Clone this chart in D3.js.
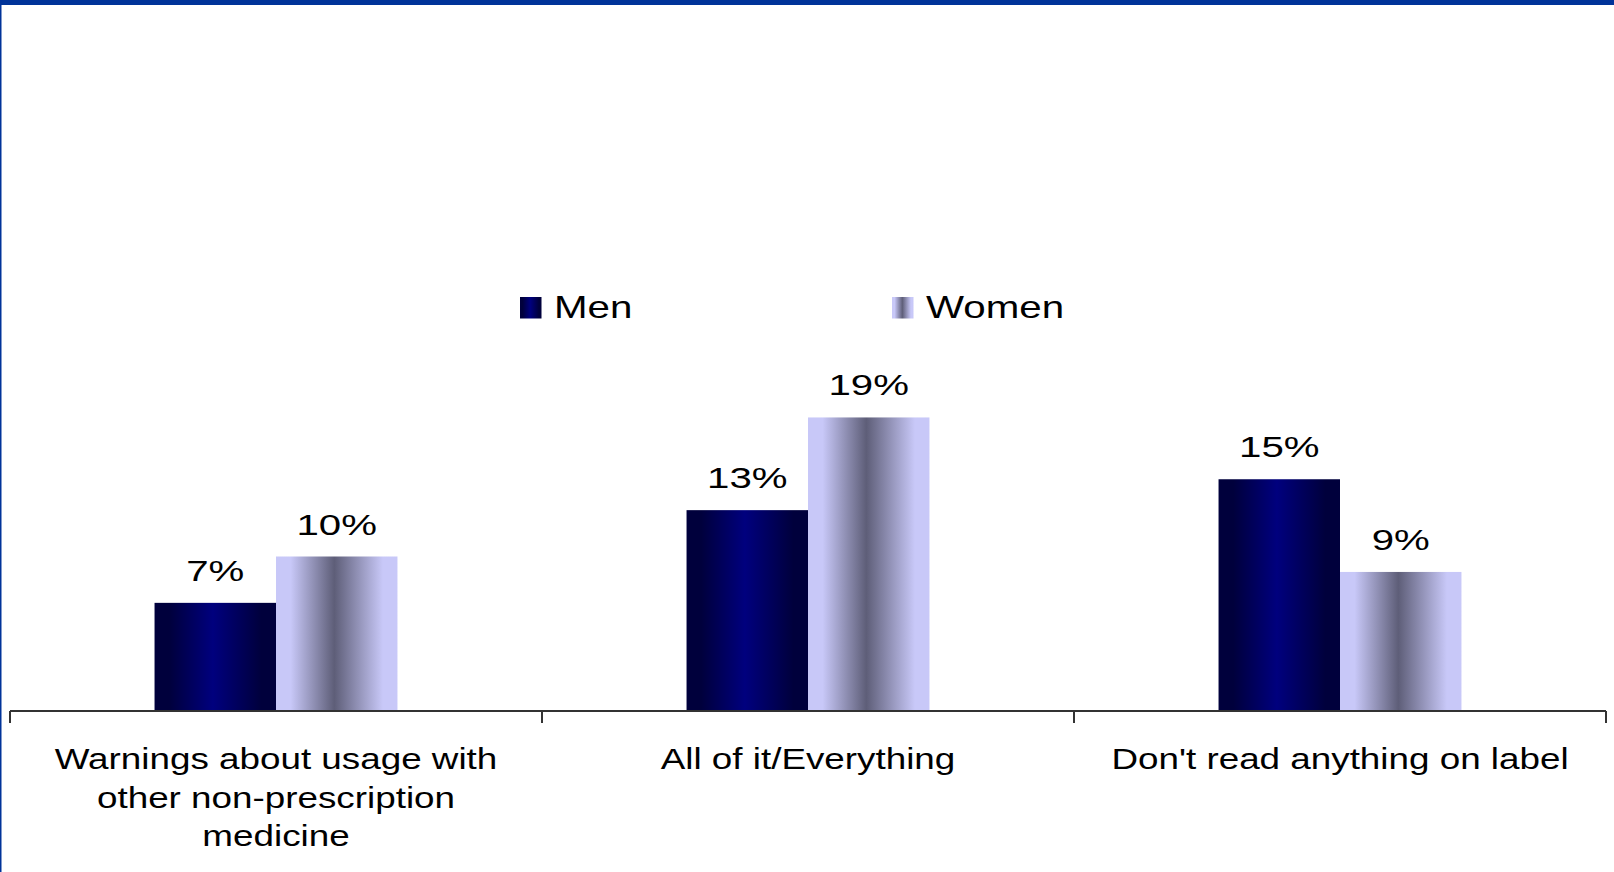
<!DOCTYPE html>
<html>
<head>
<meta charset="utf-8">
<script src="https://cdnjs.cloudflare.com/ajax/libs/d3/7.8.5/d3.min.js"></script>
<style>
  html, body { margin: 0; padding: 0; background: #fff; }
  svg { display: block; font-family: "Liberation Sans", Arial, sans-serif; }
</style>
</head>
<body>
<div id="chart"></div>
<script>
// label lines for each category
var categories = [
    ['Warnings about usage with', 'other non-prescription', 'medicine'],
    ['All of it/Everything'],
    ["Don't read anything on label"]
];
var seriesNames = ['Men', 'Women'];
var men   = [7, 13, 15];
var women = [10, 19, 9];

var width = 1614,
    height = 872;

var svg = d3.select('#chart').append('svg')
    .attr('width', width)
    .attr('height', height);

// bar gradients
var defs = svg.append('defs');
function gradient(id, edge, mid) {
    var g = defs.append('linearGradient').attr('id', id)
        .attr('x1', '0%').attr('x2', '100%').attr('y1', '0%').attr('y2', '0%');
    g.append('stop').attr('offset', '0%').attr('stop-color', edge);
    g.append('stop').attr('offset', '12%').attr('stop-color', edge);
    g.append('stop').attr('offset', '48%').attr('stop-color', mid);
    g.append('stop').attr('offset', '88%').attr('stop-color', edge);
    g.append('stop').attr('offset', '100%').attr('stop-color', edge);
}
gradient('gMen', '#00003c', '#00007e');
gradient('gWomen', '#c8c8f8', '#5e5e78');
var fills = ['url(#gMen)', 'url(#gWomen)'];

// frame
svg.append('rect').attr('x', 0).attr('y', 0).attr('width', width).attr('height', 5).attr('fill', '#003399');
svg.append('rect').attr('x', 0).attr('y', 0).attr('width', 1.5).attr('height', height).attr('fill', '#003399');

var x0 = d3.scaleBand()
    .domain(d3.range(categories.length))
    .range([10, 1606])
    .padding(0);

var x1 = d3.scaleBand()
    .domain(seriesNames)
    .range([0, x0.bandwidth()])
    .paddingInner(0)
    .paddingOuter(1.19);

var y = d3.scaleLinear()
    .domain([0, 20])
    .range([711, 402]);

var rows = categories.map(function(c, i) {
    return [men[i], women[i]];
});

var groups = svg.selectAll('.grp').data(rows)
    .enter().append('g')
        .attr('class', 'grp')
        .attr('transform', function(d, i) { return 'translate(' + x0(i) + ',0)'; });

groups.selectAll('rect').data(function(d) { return d; })
    .enter().append('rect')
        .attr('x', function(d, i) { return x1(seriesNames[i]); })
        .attr('width', x1.bandwidth())
        .attr('y', function(d) { return y(d); })
        .attr('height', function(d) { return y(0) - y(d); })
        .style('fill', function(d, i) { return fills[i]; });

groups.selectAll('.val').data(function(d) { return d; })
    .enter().append('text')
        .attr('class', 'val')
        .attr('transform', function(d, i) {
            return 'translate(' + (x1(seriesNames[i]) + x1.bandwidth() / 2) + ',' + (y(d) - 22) + ') scale(1.34,1)';
        })
        .attr('text-anchor', 'middle')
        .style('font-size', '30px')
        .style('fill', '#000')
        .text(function(d) { return d + '%'; });

// axis
var axis = svg.append('g').attr('transform', 'translate(0,' + y(0) + ')');
axis.append('line')
    .attr('x1', x0.range()[0]).attr('x2', x0.range()[1])
    .attr('stroke', '#333').attr('stroke-width', 2);
axis.selectAll('.tick').data(d3.range(categories.length + 1))
    .enter().append('line')
        .attr('class', 'tick')
        .attr('x1', function(d) { return x0.range()[0] + d * x0.step(); })
        .attr('x2', function(d) { return x0.range()[0] + d * x0.step(); })
        .attr('y1', 0).attr('y2', 12)
        .attr('stroke', '#333').attr('stroke-width', 2);

// category labels
var labels = svg.selectAll('.cat').data(categories)
    .enter().append('g')
        .attr('class', 'cat');
labels.selectAll('text').data(function(d, i) {
        return d.map(function(t, j) { return { t: t, i: i, j: j }; });
    })
    .enter().append('text')
        .attr('transform', function(d) {
            return 'translate(' + (x0(d.i) + x0.bandwidth() / 2) + ',' + (769 + d.j * 38.6) + ') scale(1.27,1)';
        })
        .attr('text-anchor', 'middle')
        .style('font-size', '29px')
        .style('fill', '#000')
        .text(function(d) { return d.t; });

// legend
var legendX = [520, 892];
var legend = svg.selectAll('.leg').data(seriesNames)
    .enter().append('g')
        .attr('class', 'leg')
        .attr('transform', function(d, i) { return 'translate(' + legendX[i] + ',297)'; });
legend.append('rect')
    .attr('width', 21.5).attr('height', 21.5)
    .style('fill', function(d, i) { return fills[i]; });
legend.append('text')
    .attr('transform', 'translate(34,21) scale(1.3,1)')
    .style('font-size', '31px')
    .style('fill', '#000')
    .text(function(d) { return d; });
</script>
</body>
</html>
